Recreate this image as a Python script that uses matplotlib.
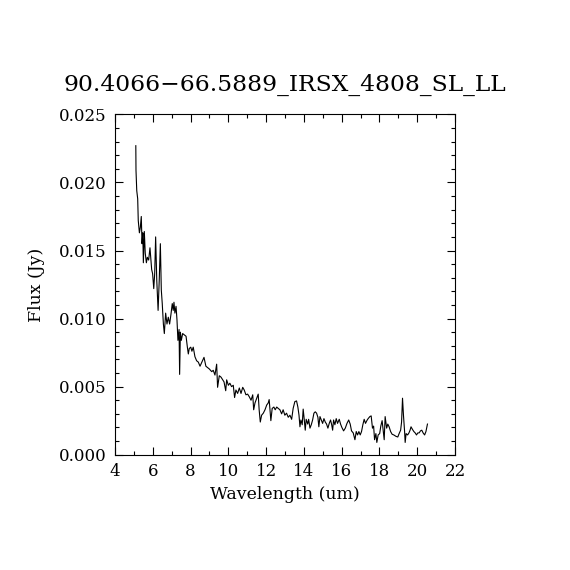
import matplotlib
matplotlib.use('Agg')
import matplotlib.pyplot as plt
from matplotlib.ticker import MultipleLocator, FormatStrFormatter

plt.rcParams['font.family'] = ['DejaVu Serif']

# Spectrum: wavelength (um), flux (mJy -> Jy below)
wave = [5.10, 5.11, 5.15, 5.20, 5.23, 5.29, 5.34, 5.39, 5.43, 5.47, 5.50, 5.55,
        5.60, 5.66, 5.71, 5.78, 5.85, 5.94, 5.99, 6.05, 6.10, 6.15, 6.21, 6.28,
        6.34, 6.40, 6.45, 6.50, 6.56, 6.61, 6.68, 6.75, 6.82, 6.89, 6.96, 7.03,
        7.08, 7.12, 7.17, 7.23, 7.28, 7.33, 7.39, 7.42, 7.46, 7.51, 7.58, 7.67,
        7.76, 7.83, 7.88, 7.93, 8.01, 8.07, 8.14, 8.23, 8.32, 8.41,
        8.50, 8.71, 8.81, 8.99, 9.12, 9.20, 9.29, 9.38, 9.43, 9.52, 9.61, 9.70,
        9.77, 9.86, 9.91, 10.00, 10.08, 10.17, 10.26, 10.33, 10.40, 10.49, 10.58,
        10.67, 10.76, 10.84, 10.93, 11.02, 11.11, 11.20, 11.29, 11.34, 11.41,
        11.50, 11.58, 11.63, 11.69, 11.76, 11.85, 11.94, 12.03, 12.11, 12.16,
        12.25, 12.32, 12.41, 12.48, 12.56, 12.64, 12.73, 12.82, 12.90, 12.99,
        13.08, 13.17, 13.26, 13.35, 13.43, 13.52, 13.61, 13.68, 13.74, 13.79,
        13.84, 13.91, 13.96, 14.02, 14.07, 14.12, 14.20, 14.25, 14.32, 14.39,
        14.46, 14.53, 14.60, 14.67, 14.74, 14.79, 14.85, 14.92, 14.99, 15.06,
        15.13, 15.20, 15.27, 15.34, 15.41, 15.47, 15.52, 15.57, 15.64, 15.71,
        15.78, 15.87, 15.94, 16.01, 16.10, 16.19, 16.28, 16.37, 16.45, 16.52,
        16.61, 16.70, 16.77, 16.84, 16.91, 16.98, 17.05, 17.12, 17.19, 17.26,
        17.33, 17.40, 17.49, 17.56, 17.63, 17.69, 17.74, 17.81, 17.86, 17.93,
        18.01, 18.07, 18.14, 18.20, 18.25, 18.30, 18.38, 18.44, 18.51, 18.59,
        18.67, 18.76, 18.87, 18.97, 19.04, 19.12, 19.17, 19.22, 19.27, 19.33,
        19.36, 19.41, 19.49, 19.56, 19.62, 19.67, 19.75, 19.82, 19.89, 19.96,
        20.03, 20.10, 20.17, 20.24, 20.31, 20.39, 20.46, 20.54]

flux_mjy = [22.7, 20.9, 19.4, 18.8, 17.2, 16.3, 16.7, 17.5, 15.5, 16.3, 14.1, 16.4,
            14.8, 14.1, 14.5, 14.3, 15.2, 13.6, 13.3, 12.2, 13.3, 16.0, 12.8, 10.6,
            12.8, 15.5, 12.1, 11.1, 9.6, 8.9, 10.4, 9.6, 10.1, 9.6, 10.3, 11.1,
            10.6, 11.2, 10.4, 10.9, 9.9, 8.4, 9.2, 5.9, 9.0, 8.4, 8.9, 8.8,
            8.7, 7.9, 7.4, 7.8, 7.9, 7.6, 7.9, 7.2, 6.9, 6.8,
            6.5, 7.15, 6.5, 6.3, 6.1, 6.2, 5.85, 6.65, 4.95, 5.8, 5.7, 5.5,
            5.35, 4.7, 5.5, 5.1, 5.25, 5.0, 5.1, 4.2, 4.75, 4.5, 4.9,
            4.5, 4.95, 4.75, 4.4, 4.45, 4.25, 4.0, 4.4, 3.3, 3.8,
            4.15, 4.45, 3.3, 2.4, 2.9, 3.05, 3.3, 3.65, 3.8, 4.05,
            2.5, 3.4, 3.5, 3.3, 3.5, 3.4, 3.3, 3.0, 3.3, 2.9,
            3.05, 2.75, 2.9, 2.6, 3.4, 3.9, 3.95, 3.5, 2.9, 2.05,
            2.55, 2.2, 3.35, 2.55, 1.8, 2.6, 2.25, 2.6, 1.95, 2.2,
            2.55, 3.05, 3.15, 3.05, 2.75, 2.05, 2.8, 2.55, 2.3, 2.65,
            2.4, 2.25, 1.95, 2.3, 2.55, 2.2, 1.8, 2.55, 2.2, 2.65,
            2.3, 2.6, 2.25, 2.0, 1.75, 1.95, 2.3, 2.55, 2.25, 1.75,
            1.6, 1.1, 1.7, 1.45, 1.7, 1.45, 1.7, 2.2, 2.6, 2.3,
            2.5, 2.65, 2.8, 2.85, 1.95, 2.1, 1.1, 1.55, 0.9, 1.45,
            1.55, 2.1, 2.5, 1.7, 1.1, 2.8, 1.95, 2.25, 2.05, 1.7,
            1.5, 1.45, 1.35, 1.3, 1.55, 1.8, 2.4, 4.15, 2.9, 1.7,
            0.9, 1.55, 1.45, 1.6, 1.8, 2.05, 1.85, 1.7, 1.6, 1.45,
            1.6, 1.6, 1.75, 1.8, 1.6, 1.45, 1.7, 2.25]

flux = [f / 1000.0 for f in flux_mjy]

fig = plt.figure(figsize=(5.7, 5.7), dpi=100)
ax = fig.add_axes([0.2018, 0.2023, 0.5965, 0.597])

ax.plot(wave, flux, color='black', linewidth=0.8)

ax.set_xlim(4, 22)
ax.set_ylim(0, 0.025)
ax.xaxis.set_major_locator(MultipleLocator(2))
ax.xaxis.set_minor_locator(MultipleLocator(1))
ax.yaxis.set_major_locator(MultipleLocator(0.005))
ax.yaxis.set_minor_locator(MultipleLocator(0.001))
ax.yaxis.set_major_formatter(FormatStrFormatter('%.3f'))

ax.tick_params(which='both', direction='in', top=True, right=True,
               labelsize=12, width=0.8)
ax.tick_params(which='major', length=6, pad=6)
ax.tick_params(which='minor', length=3)
for s in ax.spines.values():
    s.set_linewidth(0.8)

ax.set_xlabel('Wavelength (um)', fontsize=12.5, labelpad=4)
ax.set_ylabel('Flux (Jy)', fontsize=12.5, labelpad=10)
ax.set_title('90.4066\u221266.5889_IRSX_4808_SL_LL', fontsize=16.8, pad=17)

plt.savefig('out.png', dpi=100)
